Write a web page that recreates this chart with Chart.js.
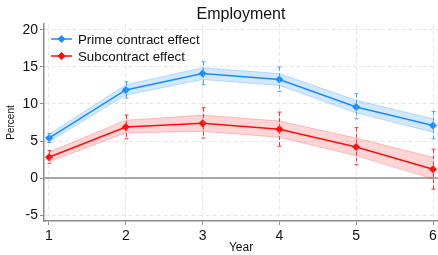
<!DOCTYPE html>
<html>
<head>
<meta charset="utf-8">
<script src="https://cdn.jsdelivr.net/npm/chart.js@4.4.1/dist/chart.umd.min.js"></script>
<style>
  html, body { margin: 0; padding: 0; background: #fff; }
  #wrap { width: 438px; height: 255px; position: relative; }
</style>
</head>
<body>
<div id="wrap"><canvas id="c"></canvas></div>
<script>
const years = [1, 2, 3, 4, 5, 6];
const yTicks = [-5, 0, 5, 10, 15, 20];

const primeEst = [5.4, 11.9, 14.1, 13.3, 9.6, 7.1];
const primeCiLo = [4.8, 10.8, 12.6, 11.7, 8.0, 5.3];
const primeCiHi = [6.0, 13.0, 15.7, 15.0, 11.4, 9.0];
const primeBandLo = [4.9, 11.2, 13.3, 12.5, 8.8, 6.2];
const primeBandHi = [5.9, 12.6, 14.9, 14.1, 10.5, 8.0];

const subEst = [2.8, 6.9, 7.4, 6.6, 4.2, 1.2];
const subCiLo = [2.0, 5.3, 5.4, 4.3, 1.8, -1.5];
const subCiHi = [3.7, 8.5, 9.5, 8.9, 6.8, 3.9];
const subBandLo = [2.2, 6.1, 6.3, 5.5, 3.0, -0.1];
const subBandHi = [3.5, 7.8, 8.5, 7.7, 5.4, 2.8];

const BLUE = '#1a8cff';
const RED = '#ff0d0d';
const FONT = "'Liberation Sans', Arial, sans-serif";

const pts = (arr) => arr.map((v, i) => ({ x: years[i], y: v }));

const band = (lo, hi, fillColor, edge, order) => [
  { data: pts(hi), borderColor: edge, borderWidth: 1, backgroundColor: fillColor, fill: '+1', pointRadius: 0, tension: 0, order },
  { data: pts(lo), borderColor: edge, borderWidth: 1, backgroundColor: fillColor, fill: false, pointRadius: 0, tension: 0, order },
];

const series = [
  { label: 'Prime contract effect', color: BLUE, ciColor: '#4aa3ff', est: primeEst, lo: primeCiLo, hi: primeCiHi },
  { label: 'Subcontract effect', color: RED, ciColor: '#ff3535', est: subEst, lo: subCiLo, hi: subCiHi },
];

// error bars, zero line, title and legend
const extras = {
  id: 'extras',
  beforeDatasetsDraw(chart) {
    const { ctx, chartArea: a, scales: { y } } = chart;
    ctx.save();
    ctx.strokeStyle = '#8c8c8c';
    ctx.lineWidth = 1.5;
    ctx.beginPath();
    ctx.moveTo(a.left, y.getPixelForValue(0));
    ctx.lineTo(a.right, y.getPixelForValue(0));
    ctx.stroke();
    ctx.restore();
  },
  afterDatasetsDraw(chart) {
    const { ctx, scales: { x, y } } = chart;
    ctx.save();
    series.forEach(s => {
      ctx.strokeStyle = s.ciColor;
      ctx.lineWidth = 1;
      years.forEach((yr, i) => {
        const px = Math.round(x.getPixelForValue(yr)) + 0.5;
        const top = y.getPixelForValue(s.hi[i]);
        const bot = y.getPixelForValue(s.lo[i]);
        ctx.setLineDash([4, 2]);
        ctx.beginPath();
        ctx.moveTo(px, top); ctx.lineTo(px, bot);
        ctx.stroke();
        ctx.setLineDash([]);
        ctx.beginPath();
        ctx.moveTo(px - 2, top); ctx.lineTo(px + 2, top);
        ctx.moveTo(px - 2, bot); ctx.lineTo(px + 2, bot);
        ctx.stroke();
      });
    });
    ctx.restore();
  },
  afterDraw(chart) {
    const { ctx, chartArea: a } = chart;
    ctx.save();
    ctx.fillStyle = '#111';
    ctx.font = '16px ' + FONT;
    ctx.textAlign = 'center';
    ctx.textBaseline = 'middle';
    ctx.fillText('Employment', (a.left + a.right) / 2, 15);

    ctx.font = '13.3px ' + FONT;
    ctx.textAlign = 'left';
    series.forEach((s, i) => {
      const ly = 39 + i * 17;
      ctx.strokeStyle = s.color;
      ctx.lineWidth = 1.5;
      ctx.beginPath();
      ctx.moveTo(51, ly); ctx.lineTo(72, ly);
      ctx.stroke();
      ctx.fillStyle = s.color;
      ctx.beginPath();
      ctx.moveTo(61.5, ly - 4); ctx.lineTo(65.5, ly); ctx.lineTo(61.5, ly + 4); ctx.lineTo(57.5, ly);
      ctx.closePath();
      ctx.fill();
      ctx.fillStyle = '#111';
      ctx.fillText(s.label, 78, ly + 1);
    });
    ctx.restore();
  },
};

new Chart(document.getElementById('c'), {
  type: 'line',
  data: {
    datasets: [
      { label: series[0].label, data: pts(primeEst), borderColor: BLUE, backgroundColor: BLUE, borderWidth: 1.5,
        pointStyle: 'rectRot', pointRadius: 4, pointBorderWidth: 0, tension: 0, fill: false, order: 0, clip: false },
      { label: series[1].label, data: pts(subEst), borderColor: RED, backgroundColor: RED, borderWidth: 1.5,
        pointStyle: 'rectRot', pointRadius: 4, pointBorderWidth: 0, tension: 0, fill: false, order: 1, clip: false },
      ...band(primeBandLo, primeBandHi, 'rgba(30,140,255,0.2)', 'rgba(30,140,255,0.25)', 2),
      ...band(subBandLo, subBandHi, 'rgba(255,20,20,0.18)', 'rgba(255,20,20,0.22)', 3),
    ],
  },
  options: {
    responsive: true,
    maintainAspectRatio: false,
    animation: false,
    layout: { autoPadding: false, padding: { top: 24, right: 0, left: 0, bottom: 0 } },
    plugins: { legend: { display: false }, title: { display: false }, tooltip: { enabled: false } },
    scales: {
      x: {
        type: 'linear', min: 0.935, max: 6.065,
        afterBuildTicks: s => { s.ticks = years.map(v => ({ value: v })); },
        afterFit: s => { s.height = 34; s.paddingRight = 0; s.paddingLeft = 0; },
        ticks: { color: '#111', font: { family: FONT, size: 14 }, padding: 3 },
        grid: { color: '#e6e6e6', tickColor: '#8c8c8c', tickLength: 4, tickBorderDash: [], drawOnChartArea: true },
        border: { color: '#8c8c8c', width: 1.5, dash: [4, 3] },
        title: { display: true, text: 'Year', color: '#111', font: { family: FONT, size: 12 }, padding: { top: 0, bottom: 0 } },
      },
      y: {
        min: -5.8, max: 20.8,
        afterBuildTicks: s => { s.ticks = yTicks.map(v => ({ value: v })); },
        afterFit: s => { s.width = 44; },
        ticks: { color: '#111', font: { family: FONT, size: 14 }, padding: 2 },
        grid: { color: '#e6e6e6', tickColor: '#8c8c8c', tickLength: 4, tickBorderDash: [] },
        border: { color: '#8c8c8c', width: 1.5, dash: [4, 3] },
        title: { display: true, text: 'Percent', color: '#111', font: { family: FONT, size: 10 }, padding: { top: 5, bottom: 0 } },
      },
    },
  },
  plugins: [extras],
});
</script>
</body>
</html>
